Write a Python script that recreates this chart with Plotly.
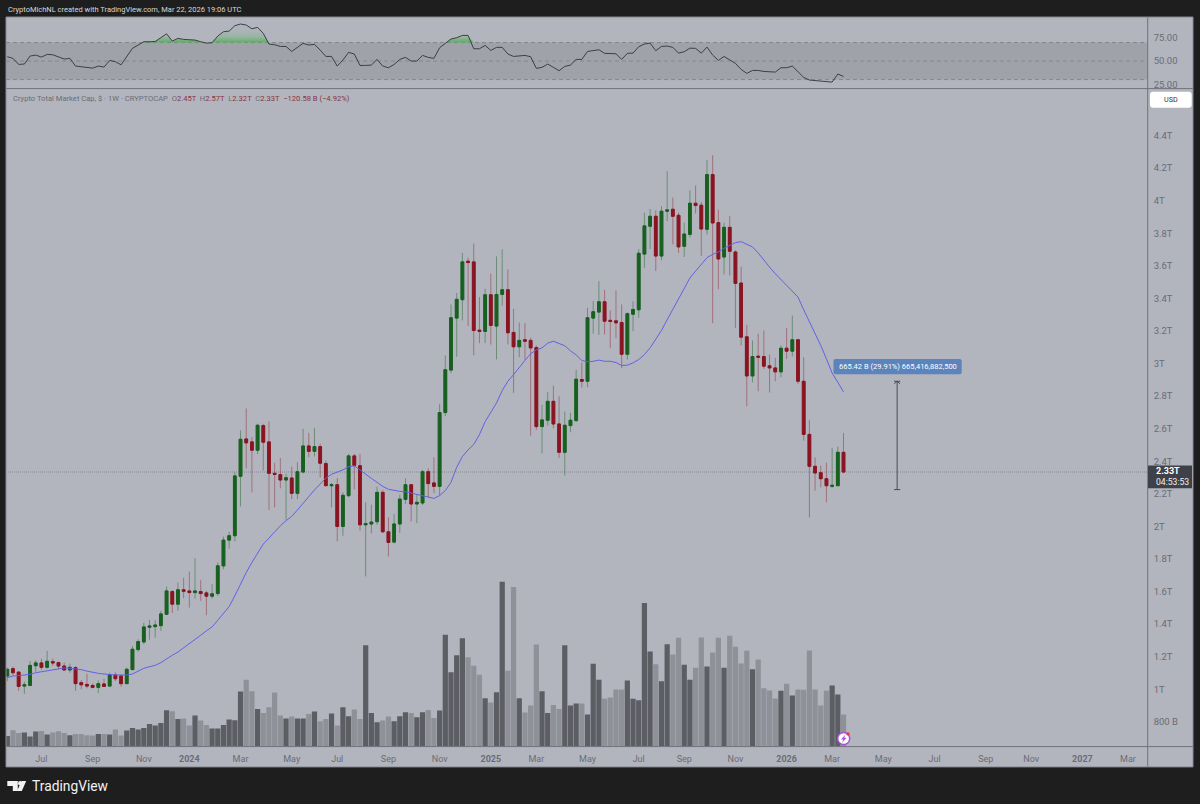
import pandas as pd
import plotly.graph_objects as go

W, H = 1200, 804

# Weekly bars, prices in trillions of USD
first_week = "2023-05-22"
opens = [
    1.082,1.127,1.106,1.020,1.024,1.145,1.162,1.135,1.170,1.164,
    1.143,1.119,1.133,1.041,1.030,1.024,1.012,1.033,1.020,1.088,
    1.082,1.035,1.121,1.244,1.291,1.381,1.385,1.391,1.461,1.600,
    1.523,1.611,1.604,1.594,1.600,1.592,1.572,1.588,1.758,1.916,
    1.943,2.308,2.537,2.519,2.468,2.619,2.519,2.326,2.318,2.285,
    2.297,2.203,2.334,2.494,2.461,2.490,2.386,2.250,2.256,2.000,
    2.189,2.433,2.373,2.010,2.015,2.029,2.209,1.967,1.904,2.015,
    2.166,2.256,2.138,2.144,2.336,2.267,2.246,2.699,2.960,3.279,
    3.392,3.628,3.624,3.205,3.197,3.422,3.230,3.424,3.453,3.191,
    3.103,3.146,3.142,3.098,2.613,2.652,2.768,2.629,2.455,2.619,
    2.650,2.902,2.891,3.279,3.316,3.379,3.265,3.262,3.252,3.057,
    3.303,3.330,3.672,3.843,3.904,3.660,3.935,3.947,3.910,3.720,
    3.793,3.984,3.972,3.824,4.160,3.865,3.654,3.836,3.685,3.494,
    3.164,2.924,3.045,3.043,2.986,2.973,2.949,3.094,3.076,3.146,
    2.891,2.565,2.369,2.330,2.293,2.246,2.250,2.455,
]
highs = [
    1.133,1.139,1.106,1.047,1.174,1.178,1.188,1.236,1.188,1.170,
    1.164,1.158,1.143,1.057,1.096,1.035,1.055,1.065,1.102,1.104,
    1.092,1.133,1.266,1.307,1.408,1.426,1.424,1.481,1.631,1.609,
    1.656,1.684,1.723,1.805,1.670,1.604,1.646,1.779,1.937,1.967,
    2.332,2.589,2.724,2.548,2.630,2.630,2.646,2.390,2.420,2.322,
    2.367,2.394,2.599,2.574,2.605,2.507,2.404,2.267,2.297,2.209,
    2.445,2.445,2.445,2.148,2.133,2.244,2.224,2.056,2.076,2.195,
    2.295,2.260,2.199,2.347,2.357,2.425,2.752,3.050,3.363,3.433,
    3.679,3.650,3.737,3.408,3.459,3.552,3.658,3.701,3.578,3.336,
    3.252,3.248,3.158,3.111,2.746,2.824,2.865,2.799,2.705,2.697,
    2.961,3.006,3.342,3.383,3.506,3.453,3.326,3.449,3.363,3.314,
    3.383,3.703,3.927,3.949,3.941,3.966,4.181,4.019,3.927,3.865,
    4.064,4.093,3.992,4.249,4.279,3.945,3.865,3.906,3.695,3.595,
    3.238,3.142,3.183,3.203,3.055,3.035,3.111,3.219,3.295,3.152,
    3.039,2.654,2.424,2.373,2.391,2.481,2.490,2.574,
]
lows = [
    1.051,1.088,0.990,0.973,1.020,1.108,1.119,1.127,1.145,1.123,
    1.113,1.102,0.990,1.000,1.006,1.006,0.977,1.014,1.014,1.051,
    1.016,1.035,1.121,1.231,1.277,1.305,1.317,1.359,1.457,1.469,
    1.482,1.559,1.502,1.557,1.543,1.455,1.557,1.574,1.738,1.863,
    1.908,2.123,2.357,2.209,2.445,2.343,2.101,2.117,2.234,2.041,
    2.168,2.168,2.326,2.425,2.429,2.301,2.250,2.117,1.908,1.943,
    2.179,2.228,1.973,1.693,1.957,2.010,1.961,1.816,1.896,1.961,
    2.138,2.031,2.021,2.131,2.179,2.205,2.189,2.677,2.941,3.042,
    3.265,3.230,3.050,3.125,3.125,3.117,3.025,3.355,3.117,2.820,
    3.039,3.023,2.557,2.592,2.449,2.619,2.602,2.420,2.311,2.578,
    2.639,2.852,2.855,3.183,3.176,3.178,3.096,3.156,2.971,3.025,
    3.199,3.281,3.586,3.703,3.568,3.634,3.875,3.732,3.679,3.654,
    3.773,3.921,3.662,3.793,3.248,3.457,3.547,3.541,3.219,3.111,
    2.738,2.885,2.830,2.967,2.822,2.891,2.916,3.029,3.043,2.875,
    2.527,2.055,2.219,2.240,2.147,2.235,2.248,2.326,
]
closes = [
    1.123,1.102,1.018,1.028,1.147,1.162,1.135,1.172,1.162,1.143,
    1.119,1.135,1.035,1.028,1.020,1.012,1.035,1.018,1.088,1.065,
    1.035,1.123,1.246,1.293,1.383,1.389,1.395,1.463,1.604,1.523,
    1.611,1.602,1.594,1.604,1.588,1.572,1.586,1.758,1.916,1.943,
    2.310,2.535,2.513,2.468,2.621,2.517,2.326,2.320,2.285,2.299,
    2.203,2.336,2.494,2.461,2.490,2.388,2.250,2.256,2.000,2.191,
    2.433,2.375,2.010,2.017,2.027,2.209,1.967,1.902,2.015,2.168,
    2.256,2.138,2.148,2.336,2.263,2.246,2.699,2.962,3.281,3.394,
    3.624,3.620,3.203,3.197,3.422,3.234,3.424,3.453,3.189,3.103,
    3.142,3.137,3.096,2.613,2.654,2.768,2.629,2.455,2.621,2.652,
    2.904,2.891,3.281,3.318,3.379,3.260,3.258,3.250,3.057,3.306,
    3.332,3.677,3.845,3.904,3.660,3.935,3.943,3.904,3.716,3.795,
    3.984,3.970,3.826,4.160,3.863,3.642,3.836,3.689,3.492,3.162,
    2.924,3.043,3.039,2.984,2.973,2.949,3.094,3.076,3.146,2.891,
    2.565,2.369,2.328,2.293,2.250,2.252,2.455,2.334,
]
ma = [
    1.072,1.082,1.084,1.086,1.092,1.102,1.108,1.115,1.121,1.127,
    1.131,1.129,1.127,1.121,1.112,1.104,1.098,1.094,1.090,1.088,
    1.088,1.088,1.094,1.110,1.129,1.139,1.147,1.164,1.188,1.209,
    1.229,1.254,1.277,1.305,1.332,1.359,1.383,1.424,1.465,1.508,
    1.574,1.650,1.717,1.779,1.840,1.892,1.928,1.967,2.004,2.035,
    2.062,2.101,2.144,2.183,2.224,2.260,2.297,2.320,2.332,2.347,
    2.367,2.371,2.347,2.318,2.295,2.271,2.246,2.228,2.220,2.215,
    2.213,2.205,2.199,2.189,2.183,2.172,2.189,2.220,2.271,2.363,
    2.429,2.470,2.503,2.564,2.643,2.705,2.758,2.834,2.891,2.932,
    2.978,3.019,3.060,3.084,3.096,3.125,3.137,3.125,3.109,3.078,
    3.053,3.019,3.010,3.014,3.021,3.014,3.014,3.006,2.988,2.990,
    3.004,3.025,3.055,3.096,3.146,3.203,3.269,3.332,3.394,3.459,
    3.525,3.568,3.609,3.650,3.670,3.685,3.707,3.724,3.742,3.748,
    3.732,3.716,3.679,3.634,3.592,3.552,3.515,3.480,3.445,3.408,
    3.330,3.256,3.189,3.111,3.029,2.941,2.885,2.826,
]
volumes = [
    32,49,41,42,30,45,47,36,42,46,41,34,38,38,34,33,38,38,36,51,
    33,48,56,51,56,68,63,71,109,106,83,84,63,93,78,65,54,54,65,81,
    79,165,200,166,113,101,118,162,93,84,90,84,84,98,105,76,83,99,63,118,
    91,111,83,304,101,73,78,90,76,91,103,101,88,103,110,86,108,335,223,274,
    325,268,242,215,145,132,163,494,227,478,145,102,123,306,166,101,125,113,304,123,
    129,129,96,248,200,143,147,171,171,198,143,139,430,285,247,196,307,276,326,245,
    200,236,327,240,282,326,236,332,299,249,287,232,261,175,168,144,167,188,153,171,
    170,288,171,123,167,183,156,96,
]
rsi = [
    54.7,52.9,46.4,46.8,55.4,56.5,54.3,57.2,56.8,54.3,
    52.2,52.9,44.6,43.9,43.2,42.4,44.6,43.5,50.7,49.3,
    46.0,55.4,63.7,67.3,70.9,70.9,71.2,75.2,79.5,71.6,
    74.5,73.4,72.7,72.7,70.9,69.4,69.8,77.0,81.7,82.4,
    88.2,90.0,88.9,84.9,86.4,79.9,68.4,67.6,65.8,65.8,
    60.4,65.1,69.1,67.3,68.0,61.9,55.0,55.0,44.6,51.1,
    59.4,57.6,45.3,45.3,45.7,51.8,44.6,42.8,46.4,51.8,
    54.0,50.0,50.0,56.1,54.0,52.9,64.4,69.1,73.8,75.2,
    77.7,77.7,63.3,63.3,66.9,61.5,64.8,64.8,57.6,55.0,
    55.8,56.1,54.7,42.1,43.2,46.8,43.2,39.6,44.2,45.7,
    51.8,51.8,60.4,61.2,62.2,58.3,58.3,57.9,51.8,58.3,
    58.6,65.5,68.4,69.4,61.2,65.8,66.2,64.8,58.6,60.1,
    64.0,63.7,58.6,65.1,56.5,50.7,55.0,51.4,47.5,41.0,
    36.7,39.9,39.9,38.8,38.5,38.1,42.8,42.8,44.6,38.1,
    32.4,29.5,28.8,28.0,27.6,27.3,36.0,33.4,
]

price_ticks = [0.8,1,1.2,1.4,1.6,1.8,2,2.2,2.4,2.6,2.8,3,3.2,3.4,3.6,3.8,4,4.2,4.4]
price_labels = ["800 B","1T","1.2T","1.4T","1.6T","1.8T","2T","2.2T","2.4T","2.6T",
                "2.8T","3T","3.2T","3.4T","3.6T","3.8T","4T","4.2T","4.4T"]
rsi_ticks = [25, 50, 75]
rsi_labels = ["25.00", "50.00", "75.00"]
date_ticks = ["2023-07-03","2023-09-04","2023-11-06","2024-01-01","2024-03-04","2024-05-06",
              "2024-07-01","2024-09-02","2024-11-04","2025-01-06","2025-03-03","2025-05-05",
              "2025-07-07","2025-09-01","2025-11-03","2026-01-05","2026-03-02","2026-05-04",
              "2026-07-06","2026-09-07","2026-11-02","2027-01-04","2027-03-01"]
date_labels = ["Jul","Sep","Nov","<b>2024</b>","Mar","May","Jul","Sep","Nov","<b>2025</b>","Mar","May",
               "Jul","Sep","Nov","<b>2026</b>","Mar","May","Jul","Sep","Nov","<b>2027</b>","Mar"]

measure_low = 2.226
measure_high = 2.891
measure_week = "2026-05-21"

FONT = "Roboto"
BG = "#b2b5be"
DARK = "#1e1e1e"
GREEN = "#17601f"
RED = "#8a1420"
TEXT = "#6a6c76"
EDGE = "#70727b"
# The photographed page comes out a touch short vertically, this evens it out
Y_FIX = 1.0012

dates = pd.date_range(first_week, periods=len(closes), freq="7D")
week = pd.Timedelta(days=7)


def px(x):
    return x / W


def py(y):
    return 1 - y * Y_FIX / H


# Pixel rectangle or line as a paper shape
def box(x0, y0, x1, y1, fill, layer="below"):
    return dict(type="rect", xref="paper", yref="paper", x0=px(x0), x1=px(x1), y0=py(y0), y1=py(y1),
                fillcolor=fill, line_width=0, layer=layer)


def rule(x0, y0, x1, y1, color=EDGE, width=1):
    return dict(type="line", xref="paper", yref="paper", x0=px(x0), x1=px(x1), y0=py(y0), y1=py(y1),
                line=dict(color=color, width=width), layer="above")


def rounded(x0, y0, x1, y1, r, fill):
    pts = [("M", x0 + r, y0), ("L", x1 - r, y0), ("Q", x1, y0, x1, y0 + r), ("L", x1, y1 - r),
           ("Q", x1, y1, x1 - r, y1), ("L", x0 + r, y1), ("Q", x0, y1, x0, y1 - r), ("L", x0, y0 + r),
           ("Q", x0, y0, x0 + r, y0)]
    path = ""
    for p in pts:
        coords = [f"{px(p[i])},{py(p[i + 1])}" for i in range(1, len(p), 2)]
        path += p[0] + " ".join(coords) + " "
    return dict(type="path", xref="paper", yref="paper", path=path + "Z", fillcolor=fill, line_width=0, layer="above")


def poly(points, fill):
    path = "M" + " L".join(f"{px(x)},{py(y)}" for x, y in points) + " Z"
    return dict(type="path", xref="paper", yref="paper", path=path, fillcolor=fill, line_width=0, layer="above")


def disc(cx, cy, r, fill, line=None):
    return dict(type="circle", xref="paper", yref="paper", x0=px(cx - r), x1=px(cx + r), y0=py(cy + r), y1=py(cy - r),
                fillcolor=fill, line=dict(color=line or fill, width=1.5 if line else 0), layer="above")


def label(x, y, text, size=9, color=TEXT, anchor="left", **kw):
    return dict(xref="paper", yref="paper", x=px(x), y=py(y), text=text, showarrow=False, xanchor=anchor,
                yanchor="middle", font=dict(family=FONT, size=size, color=color), **kw)


fig = go.Figure()

# Volume sits under everything, coloured by the direction of the candle
vol_colors = ["#5d5e63" if c >= o else "#8f9199" for o, c in zip(opens, closes)]
fig.add_trace(go.Bar(x=dates, y=volumes, marker=dict(color=vol_colors, line_width=0), yaxis="y3"))

# Wicks are paler than the bodies, so they go in a trace of their own
fig.add_trace(go.Candlestick(
    x=dates, open=opens, high=highs, low=lows, close=closes, yaxis="y",
    increasing=dict(line=dict(color="rgba(23,96,31,0.45)", width=1), fillcolor="rgba(0,0,0,0)"),
    decreasing=dict(line=dict(color="rgba(138,20,32,0.42)", width=1), fillcolor="rgba(0,0,0,0)"),
    whiskerwidth=0,
))
body_high = [max(o, c) for o, c in zip(opens, closes)]
body_low = [min(o, c) for o, c in zip(opens, closes)]
fig.add_trace(go.Candlestick(
    x=dates, open=opens, high=body_high, low=body_low, close=closes, yaxis="y",
    increasing=dict(line=dict(color=GREEN, width=1), fillcolor=GREEN),
    decreasing=dict(line=dict(color=RED, width=1), fillcolor=RED),
    whiskerwidth=0,
))
fig.add_trace(go.Scatter(x=dates, y=ma, mode="lines", line=dict(color="#6161e6", width=1), yaxis="y"))

# RSI pane
fig.add_trace(go.Scatter(x=dates, y=[70] * len(rsi), mode="lines", line=dict(width=0), yaxis="y2"))
fig.add_trace(go.Scatter(
    x=dates, y=[max(v, 70) for v in rsi], mode="lines", line=dict(width=0), fill="tonexty", yaxis="y2",
    fillgradient=dict(type="vertical", start=90, stop=70,
                      colorscale=[[0, "rgba(76,175,80,0.0)"], [0.4, "rgba(76,175,80,0.08)"],
                                  [0.7, "rgba(76,175,80,0.25)"], [1, "rgba(76,175,80,0.85)"]]),
))
fig.add_trace(go.Scatter(x=dates, y=rsi, mode="lines", line=dict(color="#3d3f45", width=1), yaxis="y2"))

left = dates[0] - week * (1.3 / 5.69)
right = dates[0] + week * ((1148 - 7.3) / 5.69)

shapes = [
    box(6, 17, 1193, 766, BG),
    # RSI band and levels
    dict(type="rect", xref="x", yref="y2", x0=left, x1=right, y0=30, y1=70, fillcolor="#a0a2aa", line_width=0, layer="below"),
]
for level in [30, 50, 70]:
    shapes.append(dict(type="line", xref="x", yref="y2", x0=left, x1=right, y0=level, y1=level,
                       line=dict(color="#85878f", width=1, dash="4px,3px"), layer="below"))
# Last price line
shapes.append(dict(type="line", xref="x", yref="y", x0=left, x1=right, y0=closes[-1], y1=closes[-1],
                   line=dict(color="#888a93", width=1, dash="1px,1px"), layer="below"))
# Frame
shapes += [rule(6, 88.5, 1193, 88.5), rule(1147.7, 17, 1147.7, 766), rule(6, 745.7, 1193, 745.7),
           rule(6, 17, 1193, 17, "#8a8c94"), rule(6, 766, 1193, 766, "#8a8c94"),
           rule(6, 17, 6, 766, "#8a8c94"), rule(1193, 17, 1193, 766, "#8a8c94")]

# Price range tool
mx = pd.Timestamp(measure_week)
cap = week * 0.55
arrow = week * 0.5
for y_value in [measure_low, measure_high]:
    shapes.append(dict(type="line", xref="x", yref="y", x0=mx - cap, x1=mx + cap, y0=y_value, y1=y_value,
                       line=dict(color="#4a4c55", width=1), layer="above"))
shapes.append(dict(type="line", xref="x", yref="y", x0=mx, x1=mx, y0=measure_low, y1=measure_high,
                   line=dict(color="#4a4c55", width=1), layer="above"))
for side in [-1, 1]:
    shapes.append(dict(type="line", xref="x", yref="y", x0=mx, x1=mx + side * arrow, y0=measure_high, y1=measure_high - 0.015,
                       line=dict(color="#4a4c55", width=1), layer="above"))
shapes.append(rounded(833.5, 358.5, 961.7, 373.7, 2, "#5b84bc"))

# USD button and the last price tag
shapes.append(rounded(1150, 91.7, 1191.7, 107.5, 3, "#ffffff"))
shapes.append(box(1148, 465, 1192, 487.7, "#3f414a", "above"))

# Lightning badge
shapes += [disc(843.7, 737.7, 6, "#ffffff", "#ad4fd8"),
           poly([(845.5, 733.5), (841, 738.5), (843.4, 738.5), (842, 742), (846.5, 736.8), (844.2, 736.8)], "#ad4fd8"),
           disc(848, 733, 1.7, "#ee3344")]

# TradingView logo
shapes += [poly([(7.3, 780), (17.8, 780), (17.8, 790), (12.8, 790), (12.8, 785), (7.3, 785)], "#f2f2f2"),
           disc(20.3, 782.4, 2.3, "#f2f2f2"),
           poly([(22, 780), (26.2, 780), (21.8, 790), (16.8, 790)], "#f2f2f2")]

legend_text = ("Crypto Total Market Cap, $ · 1W · CRYPTOCAP &nbsp;"
               "O<span style='color:#8a3340'>2.45T</span> &nbsp;"
               "H<span style='color:#8a3340'>2.57T</span> &nbsp;"
               "L<span style='color:#8a3340'>2.32T</span> &nbsp;"
               "C<span style='color:#8a3340'>2.33T</span> &nbsp;"
               "<span style='color:#8a3340'>−120.58 B (−4.92%)</span>")
annotations = [
    label(6, 9.5, "CryptoMichNL created with TradingView.com, Mar 22, 2026 19:06 UTC", 7.5, "#d8d8d8"),
    label(11, 98, legend_text, 7.6),
    label(1170.8, 99.6, "USD", 7.2, "#333333", "center"),
    label(897.5, 366, "665.42 B (29.91%) 665,416,882,500", 7.5, "#ffffff", "center"),
    label(1153.5, 470.5, "<b>2.33T</b>", 9, "#ffffff"),
    label(1153.5, 481.5, "04:53:53", 8.6, "#f0f0f0"),
    label(30, 785, "TradingView", 13.8, "#f2f2f2"),
]

fig.update_layout(
    width=W, height=H, autosize=False, margin=dict(l=0, r=0, t=0, b=0),
    paper_bgcolor=DARK, plot_bgcolor="rgba(0,0,0,0)",
    showlegend=False, barmode="overlay", bargap=0.08, boxgap=0.3, hovermode=False,
    font=dict(family=FONT, size=9, color=TEXT),
    shapes=shapes, annotations=annotations,
    xaxis=dict(domain=[px(6), px(1147.7)], range=[left, right], type="date", anchor="y3",
               tickmode="array", tickvals=date_ticks, ticktext=date_labels, ticks="", showgrid=False,
               zeroline=False, showline=False, rangeslider=dict(visible=False), ticklabelstandoff=5,
               tickfont=dict(family=FONT, size=9, color=TEXT)),
    yaxis=dict(domain=[py(745.7), py(88.5)], range=[1 + (688.5 - 745.7) / 162.7, 1 + (688.5 - 88.5) / 162.7],
               side="right", anchor="x", overlaying="y3", tickmode="array", tickvals=price_ticks, ticktext=price_labels,
               ticks="", showgrid=False, zeroline=False, showline=False, ticklabelstandoff=5,
               tickfont=dict(family=FONT, size=9.5, color=TEXT)),
    yaxis2=dict(domain=[py(88.5), py(17)], range=[50 - 27.5 / 0.925, 50 + 44 / 0.925], side="right", anchor="x",
                tickmode="array", tickvals=rsi_ticks, ticktext=rsi_labels, ticks="", showgrid=False, zeroline=False,
                showline=False, ticklabelstandoff=5, tickfont=dict(family=FONT, size=9.5, color=TEXT)),
    yaxis3=dict(domain=[py(745.7), py(88.5)], range=[0, (745.7 - 88.5) * 3], visible=False, anchor="x"),
)

# The browser's default body margin would push the chart off the 1200x804 window
fig.write_html("out.html", config=dict(displayModeBar=False), post_script="document.body.style.margin='0';")
